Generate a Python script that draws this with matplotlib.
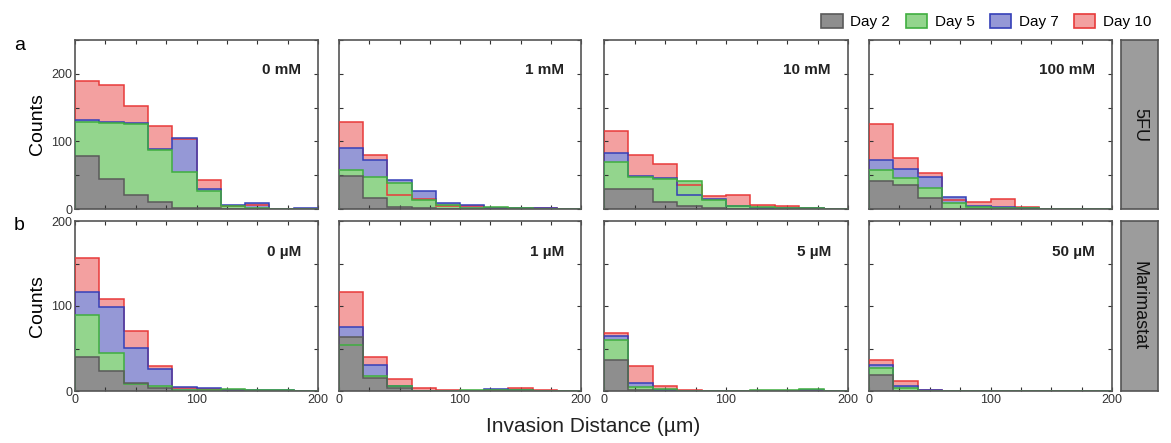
import matplotlib
matplotlib.use('Agg')
import matplotlib.pyplot as plt
from matplotlib.patches import Patch
import numpy as np

plt.rcParams['font.family'] = ['Liberation Sans', 'DejaVu Sans']

# histogram bins (um)
edges = np.arange(0, 201, 20)
days = ['Day 2', 'Day 5', 'Day 7', 'Day 10']

# counts per bin, rows = Day 2, Day 5, Day 7, Day 10
fu_0mM = [[78, 44, 21, 10, 2, 1, 0, 0, 0, 0],
          [128, 127, 126, 87, 54, 26, 5, 1, 0, 0],
          [131, 128, 127, 89, 105, 29, 6, 9, 0.5, 1.5],
          [190, 184, 153, 123, 104, 43, 4, 6, 0, 0]]
fu_1mM = [[49, 16, 3, 1.5, 0, 0, 0, 0, 0, 0],
          [58, 48, 38, 13, 6, 1.5, 3, 1, 0, 0],
          [90, 73, 43, 26, 9, 6, 1.5, 2, 2, 0],
          [129, 80, 20, 15, 5, 4, 2, 1, 1, 0]]
fu_10mM = [[30, 29, 11, 5, 1.5, 0, 0, 0, 0, 0],
           [69, 48, 45, 42, 14, 5, 3, 1.5, 1.5, 0],
           [83, 49, 46, 21, 15, 4, 1.5, 1, 1, 0.5],
           [116, 80, 67, 36, 19, 20, 6, 4, 1.5, 0]]
fu_100mM = [[42, 35, 16, 0, 0, 0, 0, 0, 0, 0],
            [58, 46, 31, 9, 3, 1.5, 1, 0, 0, 0],
            [73, 59, 47, 18, 4, 3, 1, 0, 0, 0],
            [126, 75, 53, 13, 11, 15, 3, 0, 0, 0]]
mar_0uM = [[40, 23, 10, 3, 0, 0, 0, 0, 0, 0],
           [90, 45, 8, 6, 1, 1, 2, 1, 1, 0.5],
           [116, 99, 51, 26, 5, 3, 1.5, 1, 1, 0],
           [156, 108, 71, 30, 4, 2, 1, 0, 0, 0]]
mar_1uM = [[64, 15, 3, 0, 0, 0, 0, 0, 0, 0],
           [54, 18, 6, 0, 0, 1, 1, 1, 0, 0],
           [75, 31, 6, 0.5, 0, 0, 2, 1.5, 0, 0],
           [116, 40, 14, 4, 1, 0, 1, 4, 1, 0]]
mar_5uM = [[36, 1, 0, 0, 0, 0, 0, 0, 0, 0],
           [60, 5, 2, 0, 0, 0, 1, 1, 2, 0],
           [65, 9, 1, 0, 0, 0, 0, 0, 1.5, 0],
           [68, 30, 6, 1, 0, 0, 0, 0, 0, 0]]
mar_50uM = [[19, 0, 0, 0, 0, 0, 0, 0, 0, 0],
            [27, 3, 0, 0, 0, 0, 0, 0, 0, 0],
            [31, 6, 1, 0, 0, 0, 0, 0, 0, 0],
            [36, 12, 1.5, 0, 0, 0, 0, 0, 0, 0]]

top_row = [fu_0mM, fu_1mM, fu_10mM, fu_100mM]
top_labels = ['0 mM', '1 mM', '10 mM', '100 mM']
bottom_row = [mar_0uM, mar_1uM, mar_5uM, mar_50uM]
bottom_labels = ['0 µM', '1 µM', '5 µM', '50 µM']

fills = ['#8e8e8e', '#93d58d', '#9598d6', '#f3a0a0']
lines = ['#5a5a5a', '#3fae3f', '#3540b8', '#e83a3a']

W, H = 1171, 443
fig = plt.figure(figsize=(W / 100, H / 100), dpi=100)


def box(x0, y0, x1, y1):
    return [x0 / W, 1 - y1 / H, (x1 - x0) / W, (y1 - y0) / H]


cols = [(75, 318), (339, 581), (604, 848), (869, 1112)]
rows = [(40, 209), (221, 391)]


def draw_panel(ax, counts, label, ymax, show_x, show_y):
    # back to front: Day 10, Day 7, Day 5, Day 2
    for i in [3, 2, 1, 0]:
        ax.stairs(counts[i], edges, fill=True, color=fills[i], zorder=1 + (3 - i) * 0.1)
    for i in [3, 2, 1, 0]:
        ax.stairs(counts[i], edges, color=lines[i], lw=1.1, zorder=3 + (3 - i) * 0.1)
    ax.set_xlim(0, 200)
    ax.set_ylim(0, ymax)
    ax.set_xticks(np.arange(0, 201, 25))
    ax.set_xticklabels(['0', '', '', '', '100', '', '', '', '200'] if show_x else [])
    ax.set_yticks(np.arange(0, ymax + 1, 50))
    ylabs = [str(v) if v % 100 == 0 else '' for v in range(0, ymax + 1, 50)]
    ax.set_yticklabels(ylabs if show_y else [])
    ax.tick_params(direction='in', top=True, right=True, length=3, width=0.8,
                   labelsize=9, colors='#333333', pad=2)
    for s in ax.spines.values():
        s.set_color('#555555')
        s.set_linewidth(1.2)
    ax.text(0.93, 0.82, label, transform=ax.transAxes, ha='right', va='center',
            fontsize=11, fontweight='bold', color='#222222')


for j, (x0, x1) in enumerate(cols):
    ax = fig.add_axes(box(x0, rows[0][0], x1, rows[0][1]))
    draw_panel(ax, top_row[j], top_labels[j], 250, False, j == 0)
    if j == 0:
        ax.set_ylabel('Counts', fontsize=14, labelpad=4)
    ax = fig.add_axes(box(x0, rows[1][0], x1, rows[1][1]))
    draw_panel(ax, bottom_row[j], bottom_labels[j], 200, True, j == 0)
    if j == 0:
        ax.set_ylabel('Counts', fontsize=14, labelpad=4)

# facet strips
for (y0, y1), name in zip(rows, ['5FU', 'Marimastat']):
    sax = fig.add_axes(box(1121, y0, 1158, y1))
    sax.set_facecolor('#9c9c9c')
    sax.set_xticks([])
    sax.set_yticks([])
    for s in sax.spines.values():
        s.set_color('#555555')
        s.set_linewidth(1.2)
    sax.text(0.5, 0.5, name, rotation=-90, ha='center', va='center',
             fontsize=13, color='#111111', transform=sax.transAxes)

fig.text(14 / W, 1 - 45 / H, 'a', fontsize=14, va='center')
fig.text(14 / W, 1 - 226 / H, 'b', fontsize=14, va='center')
fig.text(593 / W, 1 - 426 / H, 'Invasion Distance (µm)', fontsize=15,
         ha='center', va='center', color='#222222')

handles = [Patch(facecolor=fills[i], edgecolor=lines[i], lw=1.2) for i in range(4)]
fig.legend(handles, days, ncol=4, loc='upper right', bbox_to_anchor=(1165 / W, 1.0),
           frameon=False, fontsize=11, handlelength=1.4, handleheight=1.1,
           columnspacing=1.0, handletextpad=0.5)

fig.savefig('out.png', dpi=100)
